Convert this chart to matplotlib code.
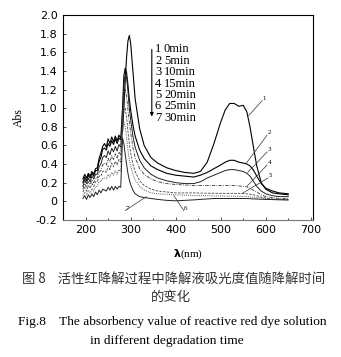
import matplotlib.pyplot as plt
from matplotlib.ticker import MultipleLocator

plt.rcParams['font.family'] = ['Liberation Serif', 'Noto Sans CJK SC', 'DejaVu Sans']

# UV region (noisy part), nm
wl_uv = [194, 198, 202, 206, 210, 214, 218, 222, 226, 230, 234, 238, 242, 246, 250,
         254, 258, 262, 266, 270, 274, 278]
uv_1 = [0.24, 0.29, 0.25, 0.30, 0.27, 0.32, 0.29, 0.35, 0.36, 0.46, 0.52, 0.59, 0.62, 0.58,
        0.67, 0.62, 0.69, 0.64, 0.70, 0.65, 0.71, 0.68]
uv_2 = [0.20, 0.26, 0.22, 0.28, 0.25, 0.30, 0.27, 0.33, 0.33, 0.43, 0.47, 0.56, 0.57, 0.55,
        0.62, 0.59, 0.65, 0.61, 0.67, 0.62, 0.68, 0.66]
uv_3 = [0.16, 0.23, 0.19, 0.25, 0.21, 0.27, 0.24, 0.29, 0.29, 0.37, 0.40, 0.47, 0.49, 0.47,
        0.54, 0.50, 0.57, 0.53, 0.59, 0.54, 0.61, 0.58]
uv_4 = [0.13, 0.19, 0.15, 0.21, 0.18, 0.23, 0.20, 0.25, 0.25, 0.31, 0.33, 0.39, 0.41, 0.39,
        0.46, 0.42, 0.49, 0.45, 0.51, 0.46, 0.53, 0.50]
uv_5 = [0.10, 0.15, 0.11, 0.17, 0.14, 0.19, 0.16, 0.21, 0.21, 0.27, 0.27, 0.32, 0.33, 0.31,
        0.38, 0.34, 0.41, 0.37, 0.43, 0.39, 0.45, 0.42]
uv_6 = [0.06, 0.10, 0.07, 0.12, 0.09, 0.14, 0.11, 0.16, 0.16, 0.21, 0.21, 0.25, 0.25, 0.24,
        0.29, 0.26, 0.31, 0.28, 0.33, 0.29, 0.34, 0.32]
uv_7 = [0.03, 0.06, 0.02, 0.07, 0.04, 0.08, 0.05, 0.10, 0.07, 0.12, 0.09, 0.13, 0.12, 0.11,
        0.15, 0.12, 0.16, 0.12, 0.16, 0.13, 0.16, 0.15]

# peak + visible region, nm
wl_vis = [282, 285, 288, 291, 294, 297, 300, 305, 310, 320, 330, 345, 360, 380, 400, 420,
          440, 455, 470, 485, 500, 510, 520, 530, 540, 550, 558, 565, 572, 580, 590, 600,
          615, 630, 650]
vis_1 = [0.75, 1.00, 1.30, 1.55, 1.72, 1.78, 1.70, 1.40, 1.10, 0.78, 0.60, 0.47, 0.41, 0.36,
         0.33, 0.31, 0.30, 0.32, 0.42, 0.62, 0.85, 0.98, 1.05, 1.05, 1.02, 1.03, 0.96, 0.80,
         0.60, 0.38, 0.20, 0.13, 0.09, 0.08, 0.07]
vis_2 = [1.00, 1.35, 1.43, 1.38, 1.25, 1.10, 0.98, 0.82, 0.70, 0.55, 0.46, 0.38, 0.34, 0.30,
         0.28, 0.27, 0.26, 0.28, 0.31, 0.35, 0.39, 0.42, 0.44, 0.44, 0.42, 0.41, 0.40, 0.38,
         0.34, 0.27, 0.19, 0.14, 0.11, 0.09, 0.08]
vis_3 = [0.95, 1.25, 1.36, 1.33, 1.18, 1.00, 0.88, 0.70, 0.58, 0.44, 0.36, 0.29, 0.25, 0.22,
         0.20, 0.19, 0.19, 0.21, 0.25, 0.28, 0.31, 0.33, 0.34, 0.34, 0.33, 0.32, 0.30, 0.27,
         0.22, 0.16, 0.11, 0.08, 0.06, 0.05, 0.05]
vis_4 = [0.85, 1.10, 1.20, 1.12, 0.98, 0.85, 0.74, 0.58, 0.47, 0.35, 0.29, 0.24, 0.21, 0.19,
         0.18, 0.175, 0.17, 0.17, 0.17, 0.17, 0.17, 0.17, 0.17, 0.17, 0.165, 0.16, 0.155,
         0.14, 0.12, 0.10, 0.07, 0.05, 0.04, 0.03, 0.03]
vis_5 = [0.80, 0.98, 1.00, 0.90, 0.75, 0.62, 0.52, 0.40, 0.32, 0.22, 0.17, 0.13, 0.11, 0.10,
         0.09, 0.09, 0.09, 0.088, 0.087, 0.086, 0.085, 0.085, 0.085, 0.085, 0.084, 0.083,
         0.08, 0.075, 0.07, 0.06, 0.045, 0.035, 0.025, 0.02, 0.015]
vis_6 = [0.75, 0.85, 0.80, 0.68, 0.55, 0.45, 0.38, 0.29, 0.23, 0.16, 0.12, 0.09, 0.08, 0.075,
         0.07, 0.066, 0.063, 0.061, 0.06, 0.058, 0.057, 0.056, 0.055, 0.055, 0.054, 0.052,
         0.05, 0.048, 0.045, 0.04, 0.035, 0.03, 0.022, 0.018, 0.015]
vis_7 = [0.68, 0.62, 0.50, 0.40, 0.30, 0.23, 0.18, 0.12, 0.08, 0.05, 0.04, 0.03, 0.02, 0.01,
         0.005, 0.01, 0.015, 0.02, 0.025, 0.03, 0.03, 0.03, 0.03, 0.03, 0.03, 0.03, 0.03,
         0.028, 0.026, 0.024, 0.022, 0.02, 0.018, 0.016, 0.015]

uv_all = [uv_1, uv_2, uv_3, uv_4, uv_5, uv_6, uv_7]
vis_all = [vis_1, vis_2, vis_3, vis_4, vis_5, vis_6, vis_7]
times = ['0min', '5min', '10min', '15min', '20min', '25min', '30min']
styles = ['-', '-', '-', (0, (4, 1.5, 1, 1.5)), (0, (3, 1.5)), (0, (1, 1.2)), '-']
widths = [0.8, 0.8, 0.7, 0.6, 0.6, 0.7, 0.7]
colors = ['black', 'black', '#222222', '#333333', '#444444', '#555555', '#222222']

fig = plt.figure(figsize=(3.41, 3.57), dpi=100)
ax = fig.add_axes([0.185, 0.384, 0.733, 0.574])

for i in range(7):
    ax.plot(wl_uv + wl_vis, uv_all[i] + vis_all[i], linestyle=styles[i],
            lw=widths[i], color=colors[i])

# leader lines with curve numbers
label_pos = [(592, 1.08), (603, 0.71), (603, 0.53), (603, 0.39), (605, 0.25), (418, -0.10), (288, -0.10)]
line_end = [(562, 0.92), (557, 0.41), (560, 0.31), (558, 0.16), (548, 0.085), (396, 0.06), (335, 0.05)]
for i in range(7):
    lx, ly = label_pos[i]
    ex, ey = line_end[i]
    ax.plot([lx, ex], [ly, ey], color='#333333', lw=0.5)
    ax.text(lx + 1, ly, str(i + 1), fontsize=5, ha='left', va='bottom')

# legend block
for i in range(7):
    y = 1.63 - i * 0.122
    ax.text(354, y, str(i + 1), fontsize=9, va='center', ha='left')
    ax.text(374, y, times[i], fontsize=9, va='center', ha='left')
ax.annotate('', xy=(347, 0.88), xytext=(347, 1.66),
            arrowprops=dict(arrowstyle='-|>', lw=0.8, color='black', mutation_scale=5))

ax.set_xlim(150, 705)
ax.set_ylim(-0.2, 2.0)
ax.xaxis.set_major_locator(MultipleLocator(100))
ax.xaxis.set_minor_locator(MultipleLocator(50))
ax.set_yticks([2.0, 1.8, 1.6, 1.4, 1.2, 1.0, 0.8, 0.6, 0.4, 0.2, 0, -0.2])
ax.set_yticklabels(['2.0', '1.8', '1.6', '1.4', '1.2', '1.0', '0.8', '0.6', '0.4', '0.2', '0', '-0.2'])
ax.tick_params(direction='in', length=2, width=0.5, labelsize=8, pad=4)
ax.tick_params(which='minor', direction='in', length=1.5, width=0.5)
for lab in ax.get_xticklabels() + ax.get_yticklabels():
    lab.set_family('DejaVu Sans')
for s in ax.spines.values():
    s.set_linewidth(0.8)
ax.spines['bottom'].set_color('#777777')
ax.spines['bottom'].set_linestyle((0, (1, 1)))

ax.set_ylabel('Abs', fontsize=8.5, labelpad=8)
ax.set_xlabel(r'$\boldsymbol{\lambda}$(nm)', fontsize=8, labelpad=9)

fig.text(0.51, 0.218, '图 8    活性红降解过程中降解液吸光度值随降解时间', ha='center', va='center',
         fontsize=9.6, family=['Noto Sans CJK SC'], color='#333333')
fig.text(0.50, 0.168, '的变化', ha='center', va='center', fontsize=9.6,
         family=['Noto Sans CJK SC'], color='#333333')
fig.text(0.505, 0.097, 'Fig.8    The absorbency value of reactive red dye solution', ha='center',
         va='center', fontsize=9.6)
fig.text(0.49, 0.045, 'in different degradation time', ha='center', va='center', fontsize=9.6)

fig.savefig('out.png', dpi=100)
